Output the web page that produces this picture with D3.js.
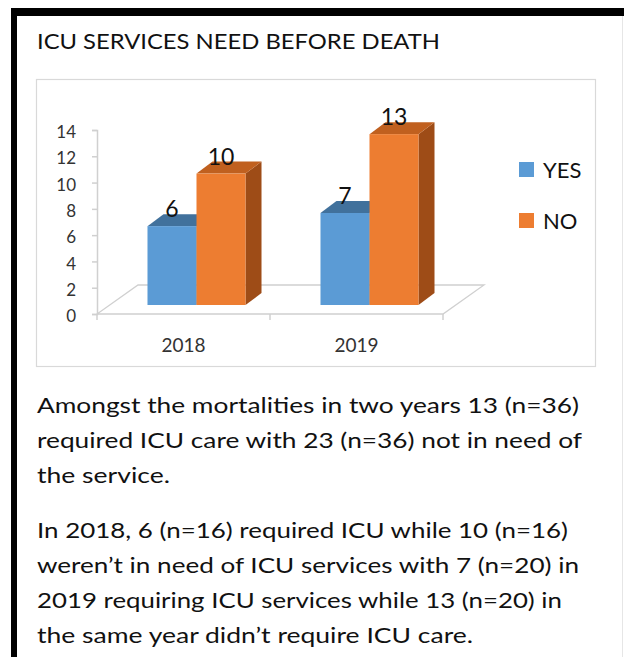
<!DOCTYPE html>
<html>
<head>
<meta charset="utf-8">
<script src="https://cdn.jsdelivr.net/npm/d3@7"></script>
<style>
  html, body { margin: 0; padding: 0; background: #fff; }
  svg { display: block; }
</style>
</head>
<body>
<script>
// ---- data ----
const categories = ["2018", "2019"];
const series = ["YES", "NO"];
const yesValues = [6, 7];
const noValues = [10, 13];
const yTicks = [0, 2, 4, 6, 8, 10, 12, 14];
const title = "ICU SERVICES NEED BEFORE DEATH";
const para1 = [
  "Amongst the mortalities in two years 13 (n=36)",
  "required ICU care with 23 (n=36) not in need of",
  "the service."
];
const para2 = [
  "In 2018, 6 (n=16) required ICU while 10 (n=16)",
  "weren\u2019t in need of ICU services with 7 (n=20) in",
  "2019 requiring ICU services while 13 (n=20) in",
  "the same year didn\u2019t require ICU care."
];
const para1Widths = [542, 545, 133];
const para2Widths = [531, 542, 525, 436];

const W = 624, H = 657;
const svg = d3.select("body").append("svg").attr("width", W).attr("height", H);
svg.append("rect").attr("width", W).attr("height", H).attr("fill", "#fff");

// frame
svg.append("rect").attr("x", 11).attr("y", 8).attr("width", W - 11).attr("height", 8).attr("fill", "#000");
svg.append("rect").attr("x", 11).attr("y", 8).attr("width", 6).attr("height", H - 8).attr("fill", "#000");
svg.append("line").attr("x1", 622.5).attr("x2", 622.5).attr("y1", 16).attr("y2", H).attr("stroke", "#e6e6e6");

const font = "Lato, 'Open Sans', sans-serif";
const ink = "#111";

// title
svg.append("text").attr("x", 37).attr("y", 49).attr("font-family", font).attr("font-size", 21)
  .attr("fill", ink).attr("textLength", 403).attr("lengthAdjust", "spacingAndGlyphs").text(title);

// chart box
svg.append("rect").attr("x", 36.5).attr("y", 79.5).attr("width", 559).attr("height", 287)
  .attr("fill", "#fff").attr("stroke", "#d9d9d9").attr("stroke-width", 1.2);

// scales
const y = d3.scaleLinear().domain([0, 14]).range([314, 130]);
const x0 = d3.scaleBand().domain(categories).range([97, 443]).paddingInner(0).paddingOuter(0);
const x1 = d3.scaleBand().domain(series).range([0, x0.bandwidth()]).paddingInner(0).paddingOuter(0.765);
const color = d3.scaleOrdinal().domain(series).range(["#5b9bd5", "#ed7d31"]);
const topColor = d3.scaleOrdinal().domain(series).range(["#41719c", "#c0601f"]);
const sideColor = d3.scaleOrdinal().domain(series).range(["#3a6690", "#9e4c17"]);

// floor (3D)
const floorDx = 41, floorDy = -29;
const fy = y(0);
const floorPts = [[97, fy], [443, fy], [443 + floorDx, fy + floorDy], [97 + floorDx, fy + floorDy]];
svg.append("polygon").attr("points", floorPts.map(p => p.join(",")).join(" "))
  .attr("fill", "#fff").attr("stroke", "#d0d0d0").attr("stroke-width", 1.3);

// y axis
const yAxis = d3.axisLeft(y).tickValues(yTicks).tickSize(5).tickPadding(8);
const ga = svg.append("g").attr("transform", "translate(97,0)").call(yAxis);
ga.select(".domain").attr("stroke", "#d0d0d0").attr("stroke-width", 1.5);
ga.selectAll(".tick line").attr("stroke", "#d0d0d0").attr("stroke-width", 1.5);
ga.selectAll(".tick text").attr("font-family", font).attr("font-size", 17).attr("fill", "#333")
  .attr("dy", "0.45em").attr("x", -21);

// x axis ticks (category boundaries)
const xBounds = [x0.range()[0], ...categories.map(c => x0(c) + x0.bandwidth())];
svg.selectAll(".xtick").data(xBounds).enter().append("line")
  .attr("x1", d => d).attr("x2", d => d).attr("y1", fy).attr("y2", fy + 6)
  .attr("stroke", "#d0d0d0").attr("stroke-width", 1.5);
svg.selectAll(".xlab").data(categories).enter().append("text")
  .attr("x", d => x0(d) + x0.bandwidth() / 2).attr("y", 352)
  .attr("text-anchor", "middle").attr("font-family", font).attr("font-size", 19).attr("fill", "#333")
  .text(d => d);

// bars
const offDx = 13, offDy = -9;     // bar placement within depth
const depDx = 16, depDy = -12;    // bar depth
const barData = [];
categories.forEach((c, i) => {
  barData.push({ cat: c, s: "YES", v: yesValues[i] });
  barData.push({ cat: c, s: "NO", v: noValues[i] });
});
const gb = svg.append("g");
barData.forEach(d => {
  const xl = x0(d.cat) + x1(d.s) + offDx;
  const xr = xl + x1.bandwidth();
  const yb = y(0) + offDy;
  const yt = y(d.v) + offDy;
  const g = gb.append("g");
  g.append("polygon").attr("points", [[xr, yb], [xr, yt], [xr + depDx, yt + depDy], [xr + depDx, yb + depDy]].map(p => p.join(",")).join(" "))
    .attr("fill", sideColor(d.s));
  g.append("polygon").attr("points", [[xl, yt], [xr, yt], [xr + depDx, yt + depDy], [xl + depDx, yt + depDy]].map(p => p.join(",")).join(" "))
    .attr("fill", topColor(d.s));
  g.append("rect").attr("x", xl).attr("y", yt).attr("width", xr - xl).attr("height", yb - yt).attr("fill", color(d.s));
  d.cx = (xl + xr) / 2; d.ty = yt + depDy;
});
// value labels
svg.selectAll(".vlab").data(barData).enter().append("text")
  .attr("x", d => d.cx).attr("y", d => d.ty + 3)
  .attr("text-anchor", "middle").attr("font-family", font).attr("font-size", 23).attr("fill", ink)
  .text(d => d.v);

// legend
const lg = svg.append("g");
series.forEach((s, i) => {
  const ly = 162 + i * 51;
  lg.append("rect").attr("x", 519).attr("y", ly).attr("width", 15).attr("height", 15).attr("fill", color(s));
  lg.append("text").attr("x", 543).attr("y", ly + 8).attr("dy", "0.36em").attr("font-family", font)
    .attr("font-size", 22).attr("fill", ink).text(s);
});

// paragraphs
function para(lines, widths, y0) {
  lines.forEach((t, i) => {
    svg.append("text").attr("x", 37).attr("y", y0 + i * 35).attr("font-family", font).attr("font-size", 21)
      .attr("fill", ink).attr("textLength", widths[i]).attr("lengthAdjust", "spacingAndGlyphs").text(t);
  });
}
para(para1, para1Widths, 413);
para(para2, para2Widths, 538);
</script>
</body>
</html>
